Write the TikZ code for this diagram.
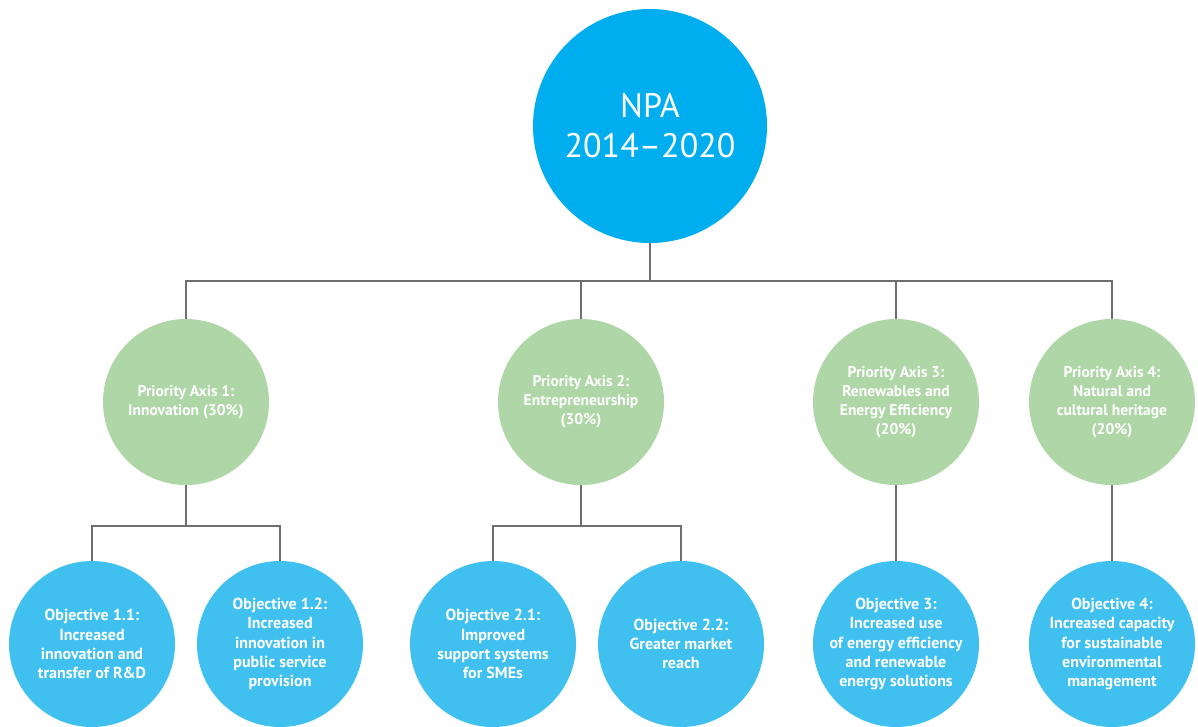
\documentclass[tikz,border=0pt]{standalone}
\usepackage{fontspec}
\setmainfont{PT Sans}
\definecolor{topblue}{HTML}{00AEEF}
\definecolor{objblue}{HTML}{40C0EE}
\definecolor{axgreen}{HTML}{AED6A6}
\definecolor{linegray}{HTML}{6E6E6E}
\tikzset{
  topcirc/.style={circle, fill=topblue, minimum size=234pt, inner sep=0pt, text=white, align=center, font=\fontsize{34}{40}\selectfont},
  axcirc/.style={circle, fill=axgreen, minimum size=166pt, inner sep=0pt, text=white, align=center, font=\bfseries\fontsize{15.5}{19}\selectfont},
  objcirc/.style={circle, fill=objblue, minimum size=166pt, inner sep=0pt, text=white, align=center, font=\bfseries\fontsize{16}{19.2}\selectfont},
  conn/.style={draw=linegray, line width=1.2pt}
}
\begin{document}
\begin{tikzpicture}[x=1pt,y=-1pt]
\useasboundingbox (0,0) rectangle (1198,726);
\begin{scope}
\clip (0,0) rectangle (1198,726);
\node[topcirc] (npa) at (650,126) {NPA\\2014--2020};
\coordinate (bus) at (650,281);

\node[axcirc] (ax1) at (186,402) {Priority Axis 1:\\Innovation (30\%)};
\node[axcirc] (ax2) at (581,402) {Priority Axis 2:\\Entrepreneurship\\(30\%)};
\node[axcirc] (ax3) at (896,402) {Priority Axis 3:\\Renewables and\\Energy Efficiency\\(20\%)};
\node[axcirc] (ax4) at (1112,402) {Priority Axis 4:\\Natural and\\cultural heritage\\(20\%)};

\node[objcirc] (o11) at (92,644) {Objective 1.1:\\Increased\\innovation and\\transfer of R\&D};
\node[objcirc] (o12) at (280,644) {Objective 1.2:\\Increased\\innovation in\\public service\\provision};
\node[objcirc] (o21) at (493,644) {Objective 2.1:\\Improved\\support systems\\for SMEs};
\node[objcirc] (o22) at (681,644) {Objective 2.2:\\Greater market\\reach};
\node[objcirc] (o3) at (896,644) {Objective 3:\\Increased use\\of energy efficiency\\and renewable\\energy solutions};
\node[objcirc] (o4) at (1112,644) {Objective 4:\\Increased capacity\\for sustainable\\environmental\\management};

\coordinate (s1) at (186,526);
\coordinate (s2) at (581,526);

\draw[conn] (npa.south) -- (bus);
\draw[conn] (bus) -| (ax1.north);
\draw[conn] (bus) -| (ax2.north);
\draw[conn] (bus) -| (ax3.north);
\draw[conn] (bus) -| (ax4.north);

\draw[conn] (ax1.south) -- (s1);
\draw[conn] (s1) -| (o11.north);
\draw[conn] (s1) -| (o12.north);
\draw[conn] (ax2.south) -- (s2);
\draw[conn] (s2) -| (o21.north);
\draw[conn] (s2) -| (o22.north);
\draw[conn] (ax3.south) -- (o3.north);
\draw[conn] (ax4.south) -- (o4.north);
\end{scope}
\end{tikzpicture}
\end{document}
